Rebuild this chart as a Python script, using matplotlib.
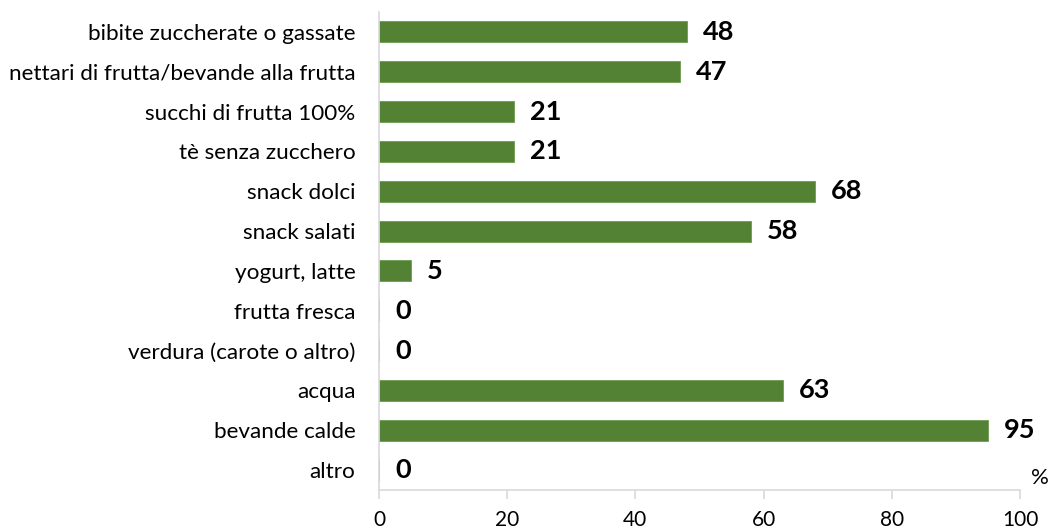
import matplotlib
matplotlib.use("Agg")
import matplotlib.pyplot as plt

categories = [
    "bibite zuccherate o gassate",
    "nettari di frutta/bevande alla frutta",
    "succhi di frutta 100%",
    "tè senza zucchero",
    "snack dolci",
    "snack salati",
    "yogurt, latte",
    "frutta fresca",
    "verdura (carote o altro)",
    "acqua",
    "bevande calde",
    "altro",
]
values = [48, 47, 21, 21, 68, 58, 5, 0, 0, 63, 95, 0]
xticks = [0, 20, 40, 60, 80, 100]

plt.rcParams['font.family'] = ['Lato', 'DejaVu Sans']

fig = plt.figure(figsize=(10.51, 5.29), dpi=100)
ax = fig.add_axes([379/1051, 1 - 490/529, (1020 - 379)/1051, (490 - 12)/529])

y = list(range(len(categories)))
ax.barh(y, values, height=0.53, color="#548235", edgecolor="#6E9A4E", linewidth=0.6)

ax.set_ylim(len(categories) - 0.5, -0.5)
ax.set_xlim(0, 100)
ax.set_yticks(y)
ax.set_yticklabels(categories, fontsize=16.2, color="#000000")
ax.set_xticks(xticks)
ax.set_xticklabels([str(t) for t in xticks], fontsize=15, color="#000000")

for sp in ["top", "right"]:
    ax.spines[sp].set_visible(False)
for sp in ["left", "bottom"]:
    ax.spines[sp].set_color("#D9D9D9")
    ax.spines[sp].set_linewidth(1.2)

ax.tick_params(axis="y", length=0, pad=17)
ax.tick_params(axis="x", length=6.5, color="#D9D9D9", width=1.2, direction="out", pad=8)

for yi, v in zip(y, values):
    ax.annotate(str(v), xy=(v, yi), xytext=(11.5, 0), textcoords="offset points",
                ha="left", va="center", fontsize=19.5, fontweight="bold", color="#000000")

ax.text(1.017, 11.2, "%", transform=ax.get_yaxis_transform(), ha="left", va="center",
        fontsize=16, color="#000000")

fig.savefig("out.png", dpi=100)
